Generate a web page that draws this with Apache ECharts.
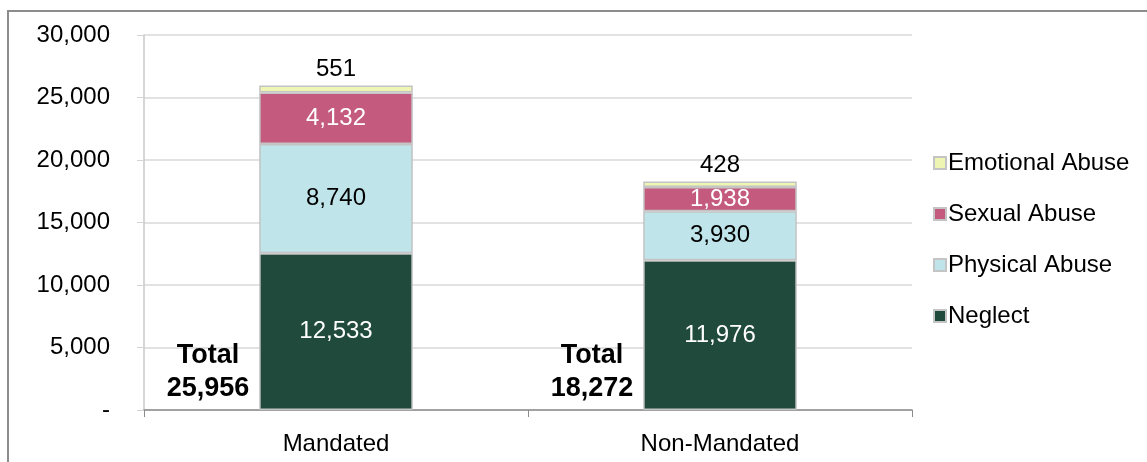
<!DOCTYPE html>
<html>
<head>
<meta charset="utf-8">
<script src="https://cdn.jsdelivr.net/npm/echarts@6/dist/echarts.min.js"></script>
<style>
  html, body { margin: 0; padding: 0; background: #fff; }
  #chart { width: 1147px; height: 462px; }
</style>
</head>
<body>
<div id="chart"></div>
<script>
const categories = ['Mandated', 'Non-Mandated'];
const neglect = [12533, 11976];
const physicalAbuse = [8740, 3930];
const sexualAbuse = [4132, 1938];
const emotionalAbuse = [551, 428];
const yTicks = [0, 5000, 10000, 15000, 20000, 25000, 30000];

const totals = categories.map((c, i) => neglect[i] + physicalAbuse[i] + sexualAbuse[i] + emotionalAbuse[i]);
const fmt = v => v === 0 ? '-' : v.toLocaleString('en-US');
const font = 'Liberation Sans, Arial, sans-serif';
const edge = { borderColor: '#c4c4c4', borderWidth: 1.5 };

const chart = echarts.init(document.getElementById('chart'));

const barSeries = (name, data, color, labelColor, pos) => ({
  name: name,
  type: 'bar',
  stack: 'all',
  barWidth: '40%',
  data: data,
  itemStyle: Object.assign({ color: color }, edge),
  label: {
    show: true,
    position: pos || 'inside',
    distance: 4,
    color: labelColor,
    fontFamily: font,
    fontSize: 24,
    formatter: p => fmt(p.value)
  }
});

chart.setOption({
  animation: false,
  textStyle: { fontFamily: font },
  graphic: [{
    type: 'rect',
    shape: { x: 8, y: 11, width: 1200, height: 500 },
    style: { fill: 'none', stroke: '#8c8c8c', lineWidth: 2 },
    silent: true
  }],
  grid: { left: 144, right: 235, top: 35, bottom: 52 },
  legend: {
    orient: 'vertical',
    left: 928,
    top: 146,
    itemGap: 27,
    itemWidth: 12,
    itemHeight: 12,
    icon: 'rect',
    data: ['Emotional Abuse', 'Sexual Abuse', 'Physical Abuse', 'Neglect'],
    textStyle: { fontSize: 24, color: '#000', fontFamily: font, padding: [0, 0, 0, -3] }
  },
  xAxis: {
    type: 'category',
    data: categories,
    axisLine: { lineStyle: { color: '#8c8c8c', width: 1.5 } },
    axisTick: { show: true, length: 7, lineStyle: { color: '#8c8c8c' } },
    axisLabel: { fontSize: 24, color: '#000', margin: 22, fontFamily: font }
  },
  yAxis: {
    type: 'value',
    min: 0,
    max: 30000,
    interval: 5000,
    axisLine: { show: true, lineStyle: { color: '#c8c8c8', width: 1.5 } },
    axisTick: { show: true, length: 7, lineStyle: { color: '#d4d4d4' } },
    splitLine: { lineStyle: { color: '#d9d9d9', width: 1.5 } },
    axisLabel: {
      fontSize: 24, color: '#000', margin: 34, fontFamily: font,
      formatter: v => yTicks.includes(v) ? fmt(v) : ''
    }
  },
  series: [
    barSeries('Neglect', neglect, '#1f4a3c', '#fff'),
    barSeries('Physical Abuse', physicalAbuse, '#bfe5ea', '#000'),
    barSeries('Sexual Abuse', sexualAbuse, '#c45a7e', '#fff'),
    barSeries('Emotional Abuse', emotionalAbuse, '#eef5b3', '#000', 'top'),
    {
      name: 'Total',
      type: 'scatter',
      data: totals.map(() => 0),
      symbolSize: 0,
      silent: true,
      z: 10,
      itemStyle: { opacity: 1 },
      label: {
        show: true,
        position: 'inside',
        offset: [-128, -38],
        align: 'center',
        color: '#000',
        opacity: 1,
        fontWeight: 'bold',
        fontSize: 27,
        lineHeight: 33,
        fontFamily: font,
        formatter: p => 'Total\n' + fmt(totals[p.dataIndex])
      }
    }
  ]
});
</script>
</body>
</html>
